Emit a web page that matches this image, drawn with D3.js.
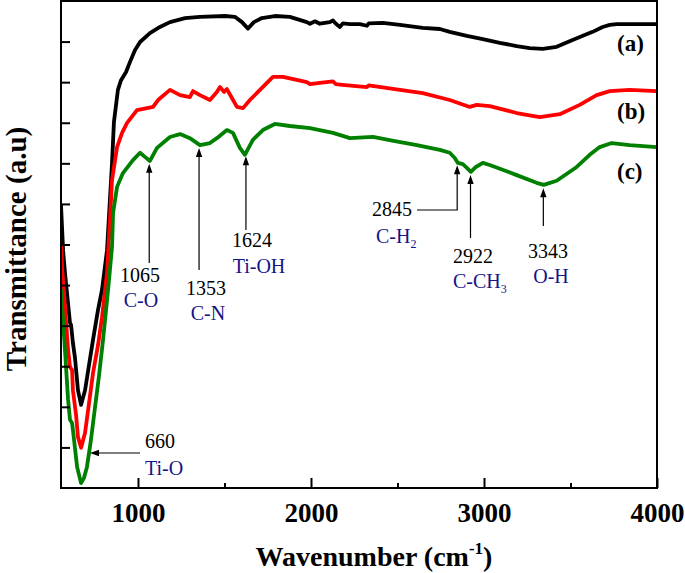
<!DOCTYPE html>
<html>
<head>
<meta charset="utf-8">
<script src="https://cdn.jsdelivr.net/npm/d3@7"></script>
<style>
  html, body { margin: 0; padding: 0; background: #fff; }
  svg { display: block; }
</style>
</head>
<body>
<svg id="chart" width="685" height="573"></svg>
<script>
// ---- data ----
const xTicksMajor = [1000, 2000, 3000, 4000];
const xTicksMinor = [1500, 2500, 3500];
const yTicks = [10, 20, 30, 40, 50, 60, 70, 80, 90, 100, 110];
const seriesNames = ["(a)", "(b)", "(c)"];

// (a) black: [wavenumber, transmittance a.u.]
const seriesA = [
  [555,69.7],[567,58.6],[578,53.0],[607,40.7],[613,40.2],[624,35.7],[636,32.0],[653,24.1],
  [671,20.5],[694,24.1],[717,30.3],[740,36.5],[769,43.9],[792,48.8],[821,58.6],[850,80.1],
  [861,90.2],[884,98.1],[902,100.5],[931,102.5],[954,105.0],[983,107.9],[1012,109.9],
  [1069,112.1],[1127,113.6],[1185,114.8],[1272,115.8],[1358,116.1],[1503,116.3],[1560,116.1],
  [1601,114.8],[1636,113.2],[1670,114.8],[1716,115.8],[1791,116.3],[1878,116.1],[1976,114.8],
  [1994,114.4],[2023,115.0],[2051,114.4],[2109,114.8],[2127,115.2],[2144,114.4],[2167,113.6],
  [2184,114.5],[2225,114.3],[2283,114.3],[2323,113.9],[2334,114.5],[2415,114.6],[2514,114.1],
  [2646,113.4],[2745,113.1],[2802,112.4],[2901,111.4],[2993,110.6],[3091,109.7],[3189,108.9],
  [3264,108.4],[3339,108.2],[3420,108.7],[3512,110.4],[3582,111.6],[3628,112.4],[3686,113.6],
  [3727,114.1],[3767,114.3],[3871,114.3],[3998,114.3]
];
// (b) red
const seriesB = [
  [555,59.9],[561,54.5],[578,44.6],[596,34.0],[607,29.8],[619,29.1],[624,24.1],[642,18.0],
  [653,12.6],[671,9.9],[694,13.6],[717,20.9],[740,28.3],[769,35.2],[792,42.1],[821,53.0],
  [838,66.0],[850,75.9],[879,84.0],[908,87.5],[936,89.9],[994,93.1],[1052,93.6],[1087,93.9],
  [1116,95.6],[1185,98.1],[1243,96.8],[1300,96.3],[1318,97.8],[1358,96.8],[1416,95.6],
  [1456,97.6],[1474,98.8],[1497,97.6],[1514,98.3],[1543,96.1],[1572,93.9],[1607,93.6],
  [1647,95.6],[1705,98.1],[1780,101.3],[1838,101.3],[1976,100.0],[1994,99.5],[2051,99.8],
  [2127,100.2],[2144,99.5],[2167,99.4],[2323,98.8],[2334,99.2],[2514,98.1],[2646,97.3],
  [2802,95.6],[2918,93.9],[2958,94.4],[3033,94.1],[3189,92.4],[3322,91.4],[3438,92.1],
  [3553,94.4],[3651,96.8],[3727,97.8],[3842,98.1],[3998,97.8]
];
// (c) green
const seriesC = [
  [555,48.8],[578,34.0],[596,21.7],[607,16.8],[619,16.0],[624,14.3],[648,5.2],[671,1.2],
  [688,2.5],[705,5.2],[728,11.8],[752,20.0],[775,27.8],[798,36.5],[827,48.8],[850,59.4],
  [856,67.8],[879,74.2],[913,77.6],[971,80.8],[1012,82.6],[1040,81.6],[1069,80.6],[1110,83.8],
  [1185,86.5],[1243,87.2],[1300,86.2],[1358,84.5],[1416,85.0],[1456,86.2],[1514,88.2],
  [1549,87.5],[1589,83.8],[1618,82.1],[1664,85.8],[1722,88.2],[1791,89.7],[1878,89.2],
  [1994,88.7],[2127,87.5],[2225,86.2],[2358,86.5],[2485,85.5],[2612,84.5],[2745,83.3],
  [2802,82.6],[2831,81.3],[2849,80.1],[2878,79.8],[2901,78.9],[2924,77.9],[2953,79.1],
  [2993,80.1],[3033,79.6],[3189,77.1],[3304,75.2],[3345,74.7],[3420,75.7],[3536,79.1],
  [3611,82.1],[3669,84.0],[3738,85.0],[3842,84.5],[3998,84.0]
];

// peak annotations
const peakWaves = [660, 1065, 1353, 1624, 2845, 2922, 3343];
const peakBonds = ["Ti-O", "C-O", "C-N", "Ti-OH", "C-H", "C-CH", "O-H"];
const peakSubs  = ["", "", "", "", "2", "3", ""];

// ---- layout / style ----
const plot = { left: 61, right: 657, top: 1, bottom: 488 };
const colors = ["#000000", "#ff0000", "#008000"];
const serif = "'Liberation Serif', 'Times New Roman', serif";
const navy = "#141488";

// annotation placement (pixels)
const annotLayout = [
  { type: "left", tipX: 90, tipY: 453, tailX: 140, numX: 145, numY: 448, numAnchor: "start", bondX: 145, bondY: 475, bondAnchor: "start" },
  { type: "up", tailY: 263, numX: 140, numY: 282, numAnchor: "middle", bondX: 141, bondY: 307, bondAnchor: "middle" },
  { type: "up", tailY: 270, numX: 206, numY: 295, numAnchor: "middle", bondX: 208, bondY: 320, bondAnchor: "middle" },
  { type: "up", tailY: 230, numX: 252, numY: 247, numAnchor: "middle", bondX: 259, bondY: 273, bondAnchor: "middle" },
  { type: "elbow", cornerY: 210, tailX: 417, numX: 412, numY: 216, numAnchor: "end", bondX: 376, bondY: 243, bondAnchor: "start" },
  { type: "up", tailY: 238, numX: 473, numY: 263, numAnchor: "middle", bondX: 453, bondY: 288, bondAnchor: "start" },
  { type: "up", tailY: 226, numX: 548, numY: 258, numAnchor: "middle", bondX: 551, bondY: 283, bondAnchor: "middle" }
];
const seriesLabelPos = [ { x: 617, y: 43 }, { x: 617, y: 111 }, { x: 617, y: 171 } ];

const svg = d3.select("#chart");
const x = d3.scaleLinear().domain([555, 4000]).range([plot.left, plot.right]);
const y = d3.scaleLinear().domain([0, 120]).range([plot.bottom, plot.top]);

svg.append("defs").append("clipPath").attr("id", "clip")
  .append("rect").attr("x", plot.left).attr("y", plot.top)
  .attr("width", plot.right - plot.left).attr("height", plot.bottom - plot.top);

// curves
const line = d3.line().x(d => x(d[0])).y(d => y(d[1])).curve(d3.curveLinear);
const gCurves = svg.append("g").attr("clip-path", "url(#clip)");
[seriesA, seriesB, seriesC].forEach((s, i) => {
  gCurves.append("path").datum(s).attr("d", line)
    .attr("fill", "none").attr("stroke", colors[i])
    .attr("stroke-width", 3.8).attr("stroke-linejoin", "round").attr("stroke-linecap", "round");
});

// frame
svg.append("rect").attr("x", plot.left).attr("y", plot.top)
  .attr("width", plot.right - plot.left).attr("height", plot.bottom - plot.top)
  .attr("fill", "none").attr("stroke", "#000").attr("stroke-width", 2);

// x axis ticks (inward)
const xAxisMajor = d3.axisBottom(x).tickValues(xTicksMajor).tickSizeInner(-10).tickSizeOuter(0).tickPadding(14).tickFormat(d3.format("d"));
const gx = svg.append("g").attr("transform", `translate(0,${plot.bottom})`).call(xAxisMajor);
gx.select(".domain").remove();
gx.selectAll(".tick line").attr("stroke", "#000").attr("stroke-width", 2);
gx.selectAll(".tick text").attr("font-family", serif).attr("font-weight", "bold")
  .attr("font-size", 27).attr("fill", "#000").attr("dy", 0).attr("y", 34);
const xAxisMinor = d3.axisBottom(x).tickValues(xTicksMinor).tickSizeInner(-5).tickSizeOuter(0).tickFormat("");
const gxm = svg.append("g").attr("transform", `translate(0,${plot.bottom})`).call(xAxisMinor);
gxm.select(".domain").remove();
gxm.selectAll(".tick line").attr("stroke", "#000").attr("stroke-width", 2);

// y axis ticks (inward, no labels)
const yAxis = d3.axisLeft(y).tickValues(yTicks).tickSizeInner(-9).tickSizeOuter(0).tickFormat("");
const gy = svg.append("g").attr("transform", `translate(${plot.left},0)`).call(yAxis);
gy.select(".domain").remove();
gy.selectAll(".tick line").attr("stroke", "#000").attr("stroke-width", 2);

// axis titles
const xt = svg.append("text").attr("x", (plot.left + plot.right) / 2 + 15).attr("y", 566)
  .attr("text-anchor", "middle").attr("font-family", serif).attr("font-weight", "bold")
  .attr("font-size", 28).attr("fill", "#000");
xt.append("tspan").text("Wavenumber (cm");
xt.append("tspan").attr("font-size", 17).attr("dy", -12).text("-1");
xt.append("tspan").attr("dy", 12).text(")");

svg.append("text").attr("transform", "translate(26,249) rotate(-90)")
  .attr("text-anchor", "middle").attr("font-family", serif).attr("font-weight", "bold")
  .attr("font-size", 29).attr("fill", "#000").text("Transmittance (a.u)");

// series labels
seriesNames.forEach((n, i) => {
  svg.append("text").attr("x", seriesLabelPos[i].x).attr("y", seriesLabelPos[i].y)
    .attr("dominant-baseline", "central").attr("font-family", serif).attr("font-weight", "bold")
    .attr("font-size", 23).attr("fill", "#000").text(n);
});

// annotations
function greenAt(w) {
  for (let i = 1; i < seriesC.length; i++) {
    if (w <= seriesC[i][0]) {
      const a = seriesC[i - 1], b = seriesC[i];
      const t = (w - a[0]) / (b[0] - a[0]);
      return a[1] + t * (b[1] - a[1]);
    }
  }
  return seriesC[seriesC.length - 1][1];
}
function arrowHead(g, tx, ty, dir) {
  const L = 9, hw = 3.2;
  let pts;
  if (dir === "up") pts = [[tx, ty], [tx - hw, ty + L], [tx + hw, ty + L]];
  else pts = [[tx, ty], [tx + L, ty - hw], [tx + L, ty + hw]];
  g.append("path").attr("d", "M" + pts.map(p => p.join(",")).join("L") + "Z").attr("fill", "#000");
}
const gA = svg.append("g");
peakWaves.forEach((w, i) => {
  const L = annotLayout[i];
  if (L.type === "left") {
    gA.append("line").attr("x1", L.tailX).attr("y1", L.tipY).attr("x2", L.tipX + 6).attr("y2", L.tipY)
      .attr("stroke", "#000").attr("stroke-width", 1.2);
    arrowHead(gA, L.tipX, L.tipY, "left");
  } else {
    const ax = x(w);
    const ty = y(greenAt(w)) + 3.5;
    if (L.type === "up") {
      gA.append("line").attr("x1", ax).attr("y1", L.tailY).attr("x2", ax).attr("y2", ty + 6)
        .attr("stroke", "#000").attr("stroke-width", 1.2);
    } else {
      gA.append("polyline").attr("points", `${L.tailX},${L.cornerY} ${ax},${L.cornerY} ${ax},${ty + 6}`)
        .attr("fill", "none").attr("stroke", "#000").attr("stroke-width", 1.2);
    }
    arrowHead(gA, ax, ty, "up");
  }
  gA.append("text").attr("x", L.numX).attr("y", L.numY).attr("text-anchor", L.numAnchor)
    .attr("font-family", serif).attr("font-size", 20).attr("fill", "#000").text(String(w));
  const bt = gA.append("text").attr("x", L.bondX).attr("y", L.bondY).attr("text-anchor", L.bondAnchor)
    .attr("font-family", serif).attr("font-size", 20).attr("fill", navy);
  bt.append("tspan").text(peakBonds[i]);
  if (peakSubs[i]) bt.append("tspan").attr("font-size", 12).attr("dy", 5).text(peakSubs[i]);
});
</script>
</body>
</html>
